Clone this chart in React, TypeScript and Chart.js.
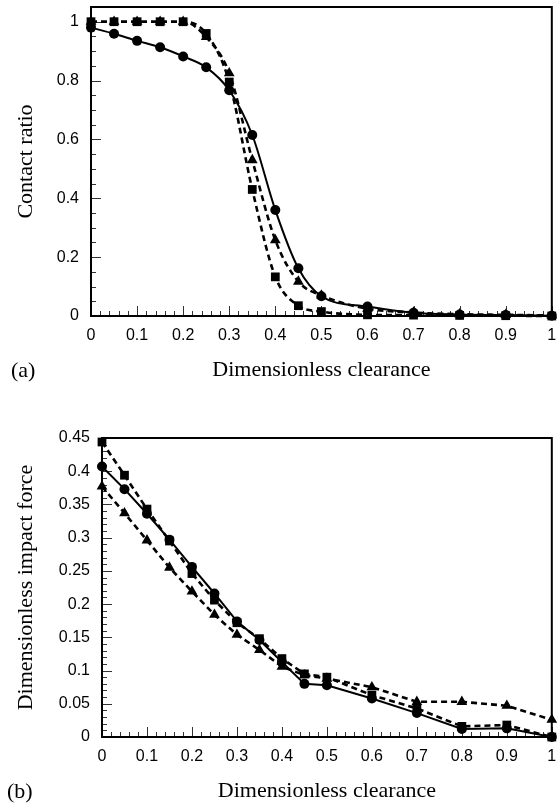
import React, { useEffect, useRef } from "react";
import { Chart, registerables } from "chart.js";

Chart.register(...registerables);

// Shared abscissa: dimensionless clearance
const clearance = [0, 0.05, 0.1, 0.15, 0.2, 0.25, 0.3, 0.35, 0.4, 0.45, 0.5, 0.6, 0.7, 0.8, 0.9, 1];

// Panel (a): contact ratio
const contactCircle = [0.98, 0.959, 0.935, 0.913, 0.882, 0.845, 0.767, 0.615, 0.36, 0.162, 0.067, 0.032, 0.011, 0.005, 0.003, 0.001];
const contactSquare = [1, 1, 1, 1, 1, 0.96, 0.795, 0.43, 0.133, 0.035, 0.015, 0.004, 0.003, 0.002, 0.001, 0];
const contactTriangle = [1, 1, 1, 1, 1, 0.948, 0.825, 0.53, 0.258, 0.117, 0.07, 0.025, 0.012, 0.006, 0.004, 0.002];

// Panel (b): dimensionless impact force
const forceCircle = [0.407, 0.373, 0.336, 0.297, 0.256, 0.216, 0.174, 0.146, 0.113, 0.08, 0.078, 0.058, 0.036, 0.012, 0.013, 0];
const forceSquare = [0.444, 0.394, 0.343, 0.295, 0.246, 0.206, 0.172, 0.148, 0.118, 0.095, 0.09, 0.063, 0.043, 0.016, 0.018, 0];
const forceTriangle = [0.377, 0.337, 0.296, 0.255, 0.219, 0.184, 0.154, 0.131, 0.106, 0.093, 0.088, 0.075, 0.053, 0.053, 0.047, 0.026];

// Axis ticks
const xTicks = [0, 0.1, 0.2, 0.3, 0.4, 0.5, 0.6, 0.7, 0.8, 0.9, 1];
const xTickLabels = ["0", "0.1", "0.2", "0.3", "0.4", "0.5", "0.6", "0.7", "0.8", "0.9", "1"];
const yTicksA = [0, 0.2, 0.4, 0.6, 0.8, 1];
const yTickLabelsA = ["0", "0.2", "0.4", "0.6", "0.8", "1"];
const yTicksB = [0, 0.05, 0.1, 0.15, 0.2, 0.25, 0.3, 0.35, 0.4, 0.45];
const yTickLabelsB = ["0", "0.05", "0.1", "0.15", "0.2", "0.25", "0.3", "0.35", "0.4", "0.45"];

const TICK_FONT = { family: "'Liberation Sans', Arial, sans-serif", size: 16 };
const TITLE_FONT = { family: "'Liberation Serif', 'Times New Roman', serif", size: 22 };

const pts = (ys: number[]) => clearance.map((x, i) => ({ x, y: ys[i] }));

function steps(min: number, max: number, step: number) {
  const out: number[] = [];
  const n = Math.round((max - min) / step);
  for (let i = 0; i <= n; i++) out.push(+(min + i * step).toFixed(4));
  return out;
}

// Inward tick marks, boxed frame and the panel tag
const framePlugin = {
  id: "frame",
  beforeDatasetsDraw(chart: any, _args: any, opts: any) {
    const { ctx, chartArea: a, scales } = chart;
    const xs = scales.x;
    const ys = scales.y;
    ctx.save();
    ctx.strokeStyle = "#333";
    ctx.lineWidth = 1;
    ctx.beginPath();
    for (const v of opts.xMinor as number[]) {
      const major = opts.xMajor.some((m: number) => Math.abs(m - v) < 1e-6);
      const px = Math.round(xs.getPixelForValue(v)) + 0.5;
      ctx.moveTo(px, a.bottom);
      ctx.lineTo(px, a.bottom - (major ? 10 : 5));
    }
    for (const v of opts.yMinor as number[]) {
      const major = opts.yMajor.some((m: number) => Math.abs(m - v) < 1e-6);
      const py = Math.round(ys.getPixelForValue(v)) + 0.5;
      ctx.moveTo(a.left, py);
      ctx.lineTo(a.left + (major ? 10 : 5), py);
    }
    ctx.stroke();
    ctx.strokeStyle = "#000";
    ctx.lineWidth = 2;
    ctx.strokeRect(a.left, a.top, a.right - a.left, a.bottom - a.top);
    ctx.restore();
  },
  afterDraw(chart: any, _args: any, opts: any) {
    const { ctx } = chart;
    ctx.save();
    ctx.fillStyle = "#000";
    ctx.font = `${TITLE_FONT.size}px ${TITLE_FONT.family}`;
    ctx.textBaseline = "alphabetic";
    ctx.textAlign = "left";
    ctx.fillText(opts.tag, opts.tagX, opts.tagY);
    ctx.restore();
  },
};

type Panel = {
  width: number;
  height: number;
  padding: { left: number; right: number; top: number; bottom: number };
  yWidth: number;
  xHeight: number;
  yMax: number;
  yTicks: number[];
  yLabels: string[];
  yMinorStep: number;
  yTitle: string;
  tension: number;
  series: number[][];
  tag: string;
  tagX: number;
  tagY: number;
  xTitlePad: number;
};

// Keep the plot box where the layout padding puts it: no extra room for edge labels
const noEdgePadding = (s: any) => {
  s.paddingTop = 0;
  s.paddingBottom = 0;
  s.paddingLeft = 0;
  s.paddingRight = 0;
};

function buildConfig(p: Panel): any {
  const styles = [
    { pointStyle: "circle", radius: 5, dash: [] as number[], width: 2 },
    { pointStyle: "rect", radius: 6.2, dash: [6, 4], width: 2.6 },
    { pointStyle: "triangle", radius: 6.2, dash: [6, 4], width: 2.6 },
  ];
  const datasets = p.series.map((ys, i) => ({
    data: pts(ys),
    borderColor: "#000",
    backgroundColor: "#000",
    borderWidth: styles[i].width,
    borderDash: styles[i].dash,
    pointStyle: styles[i].pointStyle,
    pointRadius: styles[i].radius,
    pointBorderWidth: 0,
    pointBackgroundColor: "#000",
    tension: p.tension,
    cubicInterpolationMode: p.tension > 0 ? "monotone" : "default",
    clip: false,
    order: 3 - i,
  }));
  return {
    type: "line",
    data: { datasets },
    options: {
      animation: false,
      responsive: false,
      maintainAspectRatio: false,
      events: [],
      layout: { padding: p.padding },
      plugins: {
        legend: { display: false },
        tooltip: { enabled: false },
        frame: {
          xMinor: steps(0, 1, 0.02),
          xMajor: xTicks,
          yMinor: steps(0, p.yTicks[p.yTicks.length - 1], p.yMinorStep),
          yMajor: p.yTicks,
          tag: p.tag,
          tagX: p.tagX,
          tagY: p.tagY,
        },
      },
      scales: {
        x: {
          type: "linear",
          min: 0,
          max: 1,
          afterBuildTicks: (s: any) => {
            s.ticks = xTicks.map((v) => ({ value: v }));
          },
          afterFit: (s: any) => {
            s.height = p.xHeight;
            noEdgePadding(s);
          },
          grid: { display: false, drawTicks: false },
          border: { display: false },
          ticks: {
            autoSkip: false,
            maxRotation: 0,
            padding: 10,
            color: "#000",
            font: TICK_FONT,
            callback: (_v: any, i: number) => xTickLabels[i],
          },
          title: {
            display: true,
            text: "Dimensionless clearance",
            color: "#000",
            font: TITLE_FONT,
            padding: { top: 0, bottom: p.xTitlePad },
          },
        },
        y: {
          type: "linear",
          min: 0,
          max: p.yMax,
          afterBuildTicks: (s: any) => {
            s.ticks = p.yTicks.map((v) => ({ value: v }));
          },
          afterFit: (s: any) => {
            s.width = p.yWidth;
            noEdgePadding(s);
          },
          grid: { display: false, drawTicks: false },
          border: { display: false },
          ticks: {
            autoSkip: false,
            padding: 12,
            color: "#000",
            font: TICK_FONT,
            callback: (_v: any, i: number) => p.yLabels[i],
          },
          title: {
            display: true,
            text: p.yTitle,
            color: "#000",
            font: TITLE_FONT,
            padding: { top: 13, bottom: 0 },
          },
        },
      },
    },
    plugins: [framePlugin],
  };
}

function ChartPanel({ panel, top }: { panel: Panel; top: number }) {
  const ref = useRef<HTMLCanvasElement | null>(null);
  useEffect(() => {
    if (!ref.current) return;
    const chart = new Chart(ref.current, buildConfig(panel));
    return () => chart.destroy();
  }, [panel]);
  return (
    <canvas
      ref={ref}
      width={panel.width}
      height={panel.height}
      style={{ position: "absolute", left: 0, top, display: "block" }}
    />
  );
}

const panelA: Panel = {
  width: 558,
  height: 400,
  padding: { left: 0, right: 2, top: 7, bottom: 0 },
  yWidth: 91,
  xHeight: 84,
  yMax: 1.05,
  yTicks: yTicksA,
  yLabels: yTickLabelsA,
  yMinorStep: 0.05,
  yTitle: "Contact ratio",
  tension: 0.4,
  series: [contactCircle, contactSquare, contactTriangle],
  tag: "(a)",
  tagX: 11,
  tagY: 377,
  xTitlePad: 17,
};

const panelB: Panel = {
  width: 558,
  height: 405,
  padding: { left: 0, right: 5, top: 38, bottom: 0 },
  yWidth: 102,
  xHeight: 68,
  yMax: 0.45,
  yTicks: yTicksB,
  yLabels: yTickLabelsB,
  yMinorStep: 0.01,
  yTitle: "Dimensionless impact force",
  tension: 0,
  series: [forceCircle, forceSquare, forceTriangle],
  tag: "(b)",
  tagX: 7,
  tagY: 398,
  xTitlePad: 1,
};

export default function App() {
  return (
    <div style={{ position: "absolute", left: 0, top: 0, width: 558, height: 805, background: "#fff" }}>
      <ChartPanel panel={panelA} top={0} />
      <ChartPanel panel={panelB} top={400} />
    </div>
  );
}
